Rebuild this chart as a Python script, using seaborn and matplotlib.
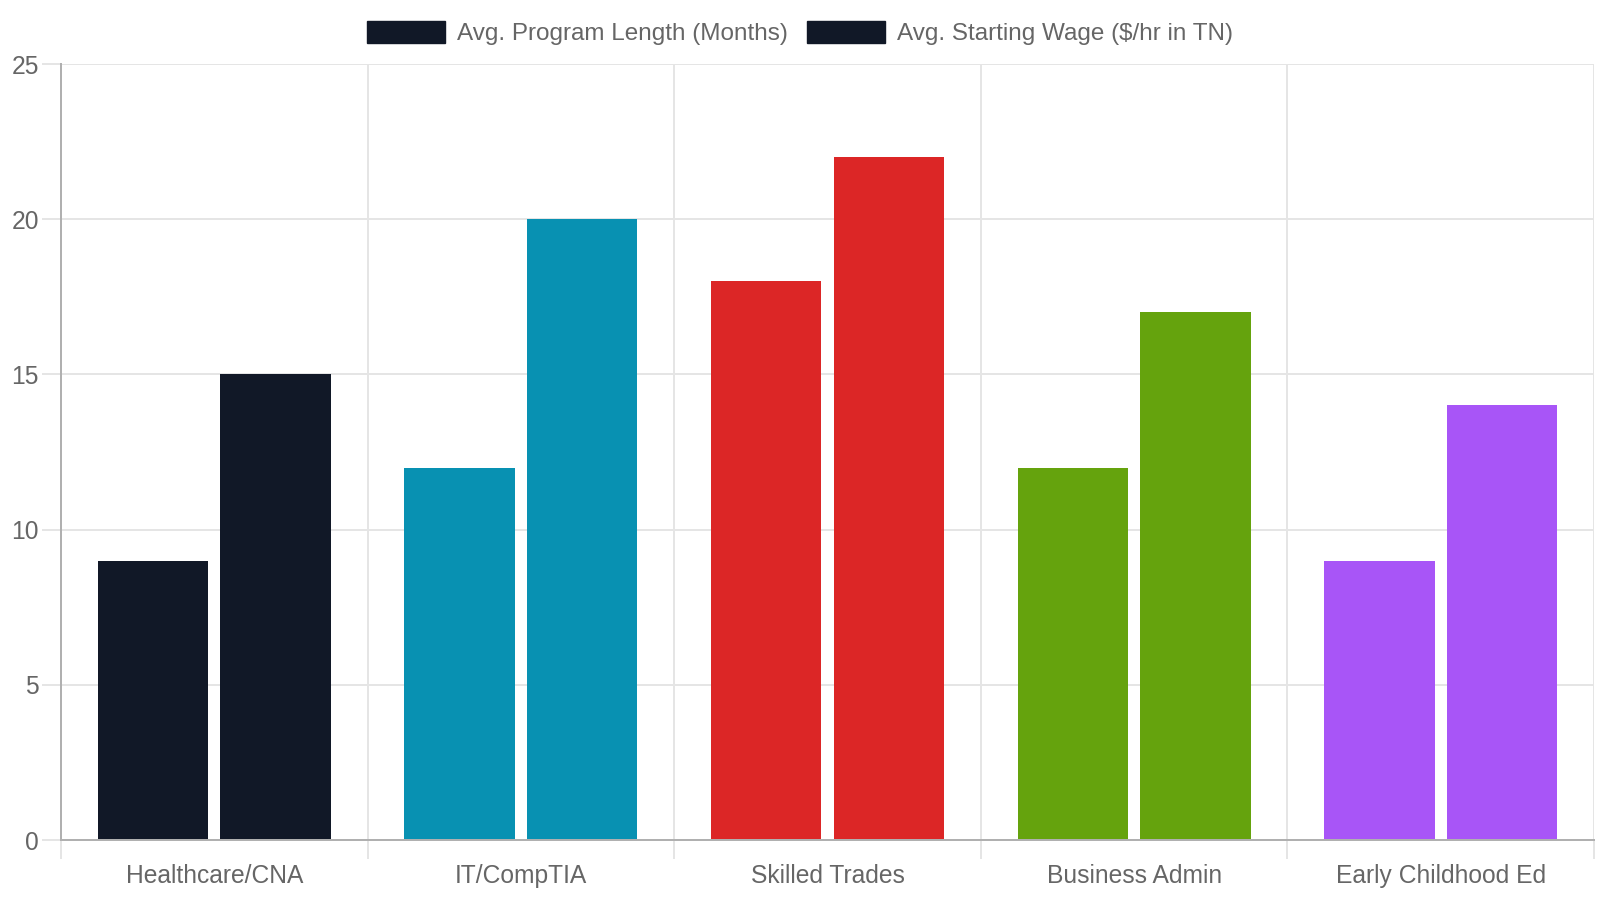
import matplotlib
matplotlib.use("Agg")
import matplotlib.pyplot as plt
import seaborn as sns
import pandas as pd
import numpy as np
from matplotlib.patches import Patch

categories = ["Healthcare/CNA", "IT/CompTIA", "Skilled Trades", "Business Admin", "Early Childhood Ed"]
program_length = [9, 12, 18, 12, 9]
starting_wage = [15, 20, 22, 17, 14]
series_names = ["Avg. Program Length (Months)", "Avg. Starting Wage ($/hr in TN)"]
colors = ["#111827", "#0891b2", "#dc2626", "#65a30d", "#a855f7"]
y_ticks = [0, 5, 10, 15, 20, 25]

df = pd.DataFrame({
    "category": categories * 2,
    "value": program_length + starting_wage,
    "series": [series_names[0]] * len(categories) + [series_names[1]] * len(categories),
})

sns.set_theme(style="white")
plt.rcParams["font.family"] = ["Liberation Sans", "DejaVu Sans"]

TXT = "#666666"
GRID = "#e5e5e5"
AXIS = "#b0b0b0"
FS = 17.7

fig = plt.figure(figsize=(16, 9), dpi=100)
ax = fig.add_axes([61 / 1600, 1 - 840 / 900, (1594 - 61) / 1600, (840 - 64) / 900])

sns.barplot(data=df, x="category", y="value", hue="series", order=categories,
            hue_order=series_names, width=0.8, gap=0.1, ax=ax, legend=False,
            saturation=1, linewidth=0, errorbar=None)

for cont in ax.containers:
    for i, bar in enumerate(cont):
        bar.set_facecolor(colors[i])
        bar.set_edgecolor(colors[i])
        bar.set_linewidth(0)

ax.set_xlim(-0.5, len(categories) - 0.5)
ax.set_ylim(0, 25)
ax.set_yticks(y_ticks)
ax.set_yticklabels([str(v) for v in y_ticks])
ax.set_xticks(range(len(categories)))
ax.set_xticklabels(categories)
ax.set_xticks(np.arange(-0.5, len(categories), 1), minor=True)
ax.set_xlabel("")
ax.set_ylabel("")

ax.set_axisbelow(True)
ax.yaxis.grid(True, which="major", color=GRID, lw=1.44)
ax.xaxis.grid(True, which="minor", color=GRID, lw=1.44)
ax.xaxis.grid(False, which="major")

ax.tick_params(axis="x", which="major", length=0, pad=17, labelsize=FS, labelcolor=TXT)
ax.tick_params(axis="x", which="minor", length=14, width=1.44, color=GRID, bottom=True)
ax.tick_params(axis="y", which="major", length=14, width=1.44, color=GRID, pad=2,
               labelsize=FS, labelcolor=TXT, left=True)

# axis-border extensions (darker, like the reference)
ax.xaxis.get_minor_ticks()[0].tick1line.set_color(AXIS)
ax.yaxis.get_major_ticks()[0].tick1line.set_color(AXIS)

for s in ["top", "right"]:
    ax.spines[s].set_visible(False)
for s in ["left", "bottom"]:
    ax.spines[s].set_color(AXIS)
    ax.spines[s].set_linewidth(1.44)

handles = [Patch(facecolor=colors[0], edgecolor=colors[0]) for _ in series_names]
fig.legend(handles, series_names, loc="center", bbox_to_anchor=(0.5, 1 - 33 / 900),
           ncol=2, frameon=False, fontsize=17.5, labelcolor=TXT,
           handlelength=3.2, handleheight=1.0, handletextpad=0.5, columnspacing=0.8)

fig.savefig("out.png", dpi=100)
